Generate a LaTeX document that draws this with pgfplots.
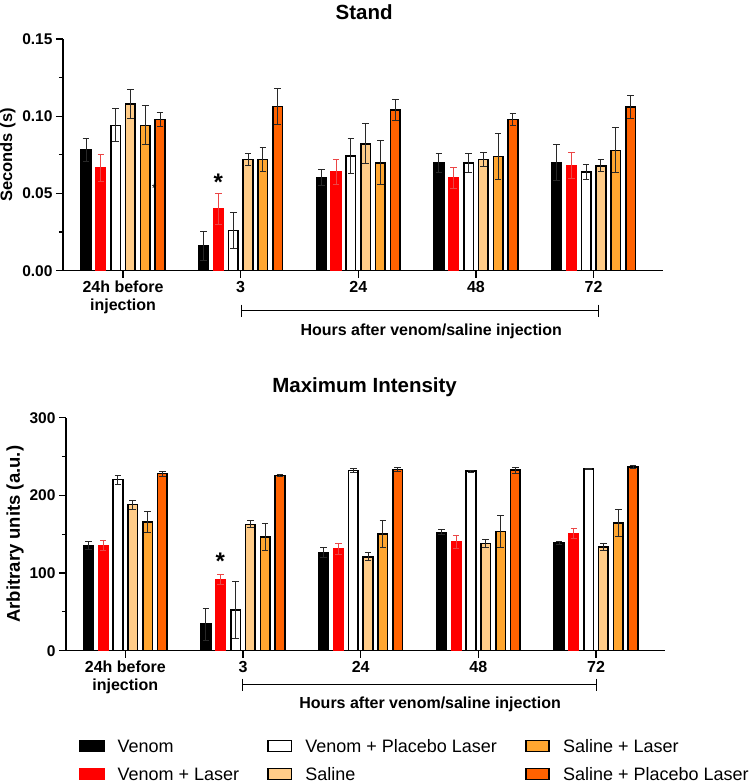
\documentclass[border=0pt]{standalone}
\usepackage{fontspec}
\setmainfont{Liberation Sans}
\usepackage{pgfplots}
\usepackage{pgfplotstable}
\pgfplotsset{compat=1.18}
\definecolor{cRed}{RGB}{255,0,0}
\definecolor{cLight}{RGB}{255,204,136}
\definecolor{cOrange}{RGB}{255,166,48}
\definecolor{cDark}{RGB}{255,98,0}
\definecolor{errRed}{RGB}{235,70,70}
\definecolor{errGray}{RGB}{40,40,40}

\pgfplotstableread{
x v1 e1 v2 e2 v3 e3 v4 e4 v5 e5 v6 e6
0 0.0781 0.0076 0.0663 0.0088 0.0941 0.0106 0.1081 0.0095 0.0941 0.0127 0.0980 0.0047
1 0.0160 0.0095 0.0399 0.0102 0.0259 0.0117 0.0721 0.0037 0.0721 0.0078 0.1062 0.0118
2 0.0602 0.0050 0.0641 0.0080 0.0742 0.0111 0.0822 0.0128 0.0699 0.0143 0.1040 0.0067
3 0.0699 0.0061 0.0602 0.0069 0.0699 0.0061 0.0721 0.0047 0.0740 0.0149 0.0978 0.0041
4 0.0699 0.0115 0.0680 0.0084 0.0639 0.0047 0.0678 0.0039 0.0779 0.0145 0.1060 0.0073
}\standtab

\pgfplotstableread{
x v1 e1 v2 e2 v3 e3 v4 e4 v5 e5 v6 e6
0 135.6 5.2 135.6 6.0 220.2 5.6 188.0 5.6 165.7 13.7 227.9 3.0
1 34.3 20.6 91.8 6.4 52.4 36.5 162.7 4.7 146.4 17.6 225.8 1.3
2 126.6 6.0 131.3 7.3 232.2 2.6 121.0 5.2 150.2 17.6 233.5 2.6
3 152.4 3.4 139.9 8.6 231.3 1.3 138.2 4.7 153.6 21.0 232.6 3.9
4 138.6 1.7 151.1 6.4 233.9 0.5 133.5 4.3 164.8 17.6 236.5 2.1
}\maxtab

\pgfplotsset{
  barstyle/.style={
    scale only axis,
    ybar=5.2pt, bar width=9.6pt,
    axis x line*=bottom, axis y line*=left,
    xtick={0,...,4},
    xticklabels={{24h before\\injection},3,24,48,72},
    xticklabel style={align=center, font=\fontsize{16}{18}\selectfont\bfseries},
    yticklabel style={font=\fontsize{15.5}{16}\selectfont\bfseries},
    /pgf/number format/assume math mode=true,
    tick align=outside, major tick length=7pt, minor tick length=4pt,
    axis line style={line width=1.2pt},
    every tick/.style={line width=1.2pt, black},
    clip=false,
    enlarge x limits=false,
  },
  mybar/.style={
    line width=1.6pt,
    /pgfplots/error bars/y dir=both,
    /pgfplots/error bars/y explicit,
    /pgfplots/error bars/error bar style={line width=1pt, #1},
    /pgfplots/error bars/error mark options={rotate=90, line width=1pt, mark size=3.3pt, #1},
  },
  legimg/.style={legend image code/.code={\draw[##1,line width=1.6pt] (0pt,-5.5pt) rectangle (23.5pt,5.5pt);}},
}

\begin{document}
\begin{tikzpicture}
\path[use as bounding box] (0,0) rectangle (752pt,783pt);

% ---------------- Stand ----------------
\begin{axis}[barstyle,
  at={(63pt,512.3pt)}, anchor=south west,
  width=600pt, height=231.7pt,
  xmin=-0.51, xmax=4.59,
  ymin=0, ymax=0.15,
  ytick={0,0.05,0.10,0.15},
  minor ytick={0.025,0.075,0.125},
  yticklabel style={/pgf/number format/.cd, fixed, fixed zerofill, precision=2},
  ylabel={Seconds (s)},
  every axis y label/.style={at={(axis description cs:-0.0917,0.5)}, rotate=90, anchor=center, font=\fontsize{16.5}{18}\selectfont\bfseries},
  title={Stand},
  every axis title/.style={at={(axis description cs:0.502,1.084)}, anchor=base, font=\fontsize{20.5}{22}\selectfont\bfseries},
]
\addplot[mybar=errGray, fill=black, draw=black, legimg] table[x=x, y=v1, y error=e1] {\standtab};
\addplot[mybar=errRed, fill=cRed, draw=cRed, legimg] table[x=x, y=v2, y error=e2] {\standtab};
\addplot[mybar=errGray, fill=white, draw=black, legimg] table[x=x, y=v3, y error=e3] {\standtab};
\addplot[mybar=errGray, fill=cLight, draw=black, legimg] table[x=x, y=v4, y error=e4] {\standtab};
\addplot[mybar=errGray, fill=cOrange, draw=black, legimg] table[x=x, y=v5, y error=e5] {\standtab};
\addplot[mybar=errGray, fill=cDark, draw=black, legimg] table[x=x, y=v6, y error=e6] {\standtab};
\node[font=\fontsize{24}{24}\selectfont\bfseries, yshift=-5pt] at (axis cs:0.811,0.0602) {*};
\node[font=\fontsize{12}{12}\selectfont, yshift=-2pt] at (axis cs:0.266,0.0544) {*};
\draw[line width=1pt] ([yshift=-40pt]axis cs:1.005,0) -- ([yshift=-40pt]axis cs:4.04,0);
\draw[line width=1pt] ([yshift=-34pt]axis cs:1.005,0) -- ([yshift=-46pt]axis cs:1.005,0);
\draw[line width=1pt] ([yshift=-34pt]axis cs:4.04,0) -- ([yshift=-46pt]axis cs:4.04,0);
\node[font=\fontsize{16}{18}\selectfont\bfseries] at ([yshift=-61pt]axis cs:2.62,0) {Hours after venom/saline injection};
\end{axis}

% ---------------- Maximum Intensity ----------------
\begin{axis}[barstyle,
  at={(66pt,132.3pt)}, anchor=south west,
  width=599pt, height=233pt,
  xmin=-0.504, xmax=4.586,
  ymin=0, ymax=300,
  ytick={0,100,200,300},
  minor ytick={50,150,250},
  ylabel={Arbitrary units (a.u.)},
  every axis y label/.style={at={(axis description cs:-0.085,0.5)}, rotate=90, anchor=center, font=\fontsize{18.5}{20}\selectfont\bfseries},
  title={Maximum Intensity},
  every axis title/.style={at={(axis description cs:0.4985,1.109)}, anchor=base, font=\fontsize{20.5}{22}\selectfont\bfseries},
  legend columns=2, transpose legend,
  legend cell align=left,
  legend style={at={(axis description cs:0.0222,-0.380)}, anchor=north west,
    draw=none, fill=none, inner sep=0pt,
    font=\fontsize{18}{20}\selectfont,
    nodes={inner sep=0pt, text depth=0pt},
    column sep=13pt, row sep=15pt,
    /tikz/every even column/.append style={column sep=28pt}},
]
\addplot[mybar=errGray, fill=black, draw=black, legimg] table[x=x, y=v1, y error=e1] {\maxtab};
\addlegendentry{Venom}
\addplot[mybar=errRed, fill=cRed, draw=cRed, legimg] table[x=x, y=v2, y error=e2] {\maxtab};
\addlegendentry{Venom + Laser}
\addplot[mybar=errGray, fill=white, draw=black, legimg] table[x=x, y=v3, y error=e3] {\maxtab};
\addlegendentry{Venom + Placebo Laser}
\addplot[mybar=errGray, fill=cLight, draw=black, legimg] table[x=x, y=v4, y error=e4] {\maxtab};
\addlegendentry{Saline}
\addplot[mybar=errGray, fill=cOrange, draw=black, legimg] table[x=x, y=v5, y error=e5] {\maxtab};
\addlegendentry{Saline + Laser}
\addplot[mybar=errGray, fill=cDark, draw=black, legimg] table[x=x, y=v6, y error=e6] {\maxtab};
\addlegendentry{Saline + Placebo Laser}
\node[font=\fontsize{24}{24}\selectfont\bfseries, yshift=-5pt] at (axis cs:0.807,121) {*};
\draw[line width=1pt] ([yshift=-34pt]axis cs:1.0,0) -- ([yshift=-34pt]axis cs:4.0,0);
\draw[line width=1pt] ([yshift=-28pt]axis cs:1.0,0) -- ([yshift=-40pt]axis cs:1.0,0);
\draw[line width=1pt] ([yshift=-28pt]axis cs:4.0,0) -- ([yshift=-40pt]axis cs:4.0,0);
\node[font=\fontsize{16}{18}\selectfont\bfseries] at ([yshift=-54pt]axis cs:2.59,0) {Hours after venom/saline injection};
\end{axis}
\end{tikzpicture}
\end{document}
